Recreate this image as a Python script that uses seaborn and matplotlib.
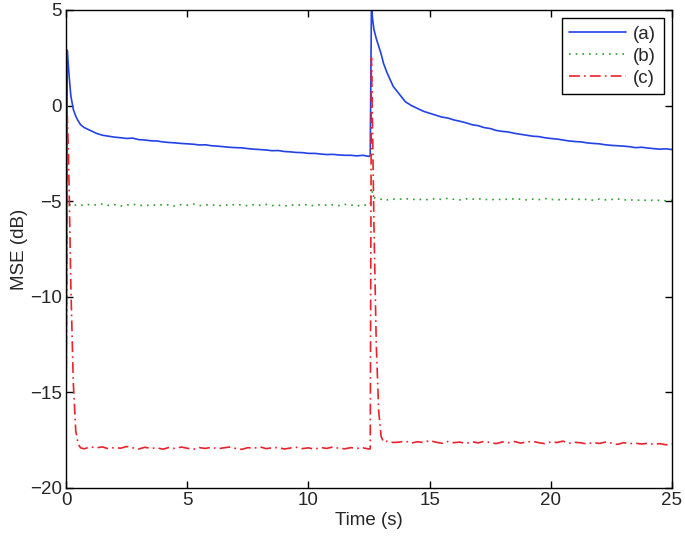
import matplotlib
matplotlib.use("Agg")
import matplotlib.pyplot as plt
import seaborn as sns
import pandas as pd

# sample times, first training run (0 .. 12.5 s) and second run (12.55 .. 25 s)
t_run1 = [0, 0.05, 0.1, 0.15, 0.2, 0.3, 0.4, 0.5, 0.6, 0.75, 1.0,
          1.25, 1.5, 1.75, 2.0, 2.25, 2.5, 2.75, 3.0, 3.25, 3.5,
          3.75, 4.0, 4.25, 4.5, 4.75, 5.0, 5.25, 5.5, 5.75, 6.0,
          6.25, 6.5, 6.75, 7.0, 7.25, 7.5, 7.75, 8.0, 8.25, 8.5,
          8.75, 9.0, 9.25, 9.5, 9.75, 10.0, 10.25, 10.5, 10.75, 11.0,
          11.25, 11.5, 11.75, 12.0, 12.25, 12.5]
t_run2 = [12.55, 12.6, 12.65, 12.7, 12.8, 12.9, 13.0, 13.1, 13.25, 13.5,
          13.75, 14.0, 14.25, 14.5, 14.75, 15.0, 15.25, 15.5, 15.75, 16.0,
          16.25, 16.5, 16.75, 17.0, 17.25, 17.5, 17.75, 18.0, 18.25, 18.5,
          18.75, 19.0, 19.25, 19.5, 19.75, 20.0, 20.25, 20.5, 20.75, 21.0,
          21.25, 21.5, 21.75, 22.0, 22.25, 22.5, 22.75, 23.0, 23.25, 23.5,
          23.75, 24.0, 24.25, 24.5, 24.75, 25.0]

# (a) MSE in dB
mse_a_run1 = [-17, 2.9, 2.0, 1.2, 0.5, -0.2, -0.55, -0.8, -1.0, -1.15, -1.3,
              -1.45, -1.55, -1.6, -1.65, -1.68, -1.72, -1.7, -1.78, -1.8, -1.84,
              -1.85, -1.9, -1.93, -1.95, -1.98, -2.0, -2.02, -2.06, -2.05, -2.1,
              -2.12, -2.15, -2.18, -2.2, -2.21, -2.25, -2.28, -2.3, -2.32, -2.36,
              -2.35, -2.4, -2.42, -2.45, -2.46, -2.5, -2.5, -2.53, -2.56, -2.55,
              -2.58, -2.6, -2.6, -2.63, -2.6, -2.66]
mse_a_run2 = [-2.6, 5.2, 4.5, 4.0, 3.5, 3.1, 2.7, 2.2, 1.7, 1.0,
              0.6, 0.2, 0.0, -0.15, -0.3, -0.4, -0.5, -0.6, -0.65, -0.75,
              -0.82, -0.9, -1.0, -1.05, -1.15, -1.2, -1.3, -1.35, -1.38, -1.45,
              -1.5, -1.55, -1.6, -1.62, -1.68, -1.72, -1.75, -1.8, -1.85, -1.88,
              -1.9, -1.95, -1.98, -2.0, -2.05, -2.08, -2.1, -2.12, -2.15, -2.2,
              -2.18, -2.22, -2.25, -2.28, -2.26, -2.3]

# (b)
mse_b_run1 = [-17, -5.0, -5.1, -5.2, -5.15, -5.25, -5.2, -5.18, -5.22, -5.2, -5.17,
              -5.2, -5.15, -5.22, -5.18, -5.25, -5.2, -5.16, -5.21, -5.24, -5.19,
              -5.22, -5.17, -5.2, -5.26, -5.18, -5.21, -5.15, -5.23, -5.2, -5.18,
              -5.25, -5.19, -5.22, -5.16, -5.2, -5.24, -5.18, -5.21, -5.17, -5.23,
              -5.2, -5.26, -5.19, -5.22, -5.17, -5.2, -5.24, -5.18, -5.21, -5.19,
              -5.23, -5.17, -5.2, -5.25, -5.19, -5.22]
mse_b_run2 = [-5.2, -4.3, -4.6, -4.8, -4.88, -4.92, -4.9, -4.86, -4.93, -4.89,
              -4.9, -4.86, -4.92, -4.88, -4.94, -4.9, -4.87, -4.91, -4.85, -4.9,
              -4.93, -4.88, -4.9, -4.86, -4.92, -4.89, -4.94, -4.88, -4.91, -4.87,
              -4.9, -4.93, -4.89, -4.92, -4.86, -4.9, -4.94, -4.89, -4.91, -4.88,
              -4.92, -4.9, -4.95, -4.89, -4.93, -4.91, -4.88, -4.94, -4.92, -4.96,
              -4.93, -4.97, -4.94, -4.96, -4.98, -4.95]

# (c)
mse_c_run1 = [-17, -0.5, -2.5, -6.0, -9.5, -14.5, -17.0, -17.7, -17.9, -17.95, -17.85,
              -17.9, -17.85, -17.95, -17.88, -17.92, -17.83, -17.9, -17.96, -17.87, -17.93,
              -17.9, -17.97, -17.88, -17.94, -17.86, -17.92, -17.98, -17.89, -17.93, -17.87,
              -17.95, -17.9, -17.86, -17.93, -17.98, -17.89, -17.92, -17.85, -17.94, -17.9,
              -17.88, -17.96, -17.91, -17.87, -17.94, -17.9, -17.97, -17.88, -17.93, -17.86,
              -17.92, -17.95, -17.89, -17.93, -17.9, -17.96]
mse_c_run2 = [-17.95, 2.5, -1.5, -6.0, -12.5, -16.0, -17.3, -17.6, -17.55, -17.62,
              -17.6, -17.55, -17.65, -17.58, -17.62, -17.52, -17.6, -17.66, -17.57, -17.63,
              -17.6, -17.67, -17.58, -17.64, -17.56, -17.62, -17.68, -17.59, -17.63, -17.57,
              -17.65, -17.6, -17.56, -17.63, -17.68, -17.59, -17.62, -17.55, -17.66, -17.61,
              -17.64, -17.7, -17.62, -17.67, -17.6, -17.65, -17.72, -17.63, -17.68, -17.66,
              -17.7, -17.66, -17.72, -17.68, -17.74, -17.7]

labels = ["(a)", "(b)", "(c)"]
colors = ["#2342e6", "#2ca02c", "#e8232b"]
styles = ["-", (0, (1, 3)), (0, (6.5, 2.5, 1, 2.5))]

time = t_run1 + t_run2
df = pd.DataFrame({
    "t": time * 3,
    "mse": mse_a_run1 + mse_a_run2 + mse_b_run1 + mse_b_run2 + mse_c_run1 + mse_c_run2,
    "curve": sum([[lab] * len(time) for lab in labels], []),
})

sns.set_style("ticks")
plt.rcParams["font.family"] = ["Liberation Sans", "DejaVu Sans"]
plt.rcParams["xtick.direction"] = "in"
plt.rcParams["ytick.direction"] = "in"

FS = 13.5

fig = plt.figure(figsize=(6.85, 5.4), dpi=100)
ax = fig.add_axes([0.0964, 0.0963, 0.8846, 0.8852])

for lab, col, ls in zip(labels, colors, styles):
    sns.lineplot(data=df[df["curve"] == lab], x="t", y="mse", color=col,
                 linestyle=ls, linewidth=1.2, estimator=None, label=lab, ax=ax)

ax.set_xlim(0, 25)
ax.set_ylim(-20, 5)
ax.set_xticks([0, 5, 10, 15, 20, 25])
ax.set_yticks([-20, -15, -10, -5, 0, 5])
ax.tick_params(labelsize=FS, length=5, width=1, top=True, right=True,
               color="black", pad=3)
for s in ax.spines.values():
    s.set_color("black")
    s.set_linewidth(1)
ax.set_xlabel("Time (s)", fontsize=FS, labelpad=2)
ax.set_ylabel("MSE (dB)", fontsize=FS, labelpad=1)

leg = ax.legend(loc="upper right", fontsize=FS, fancybox=False, framealpha=1,
                edgecolor="black", handlelength=3.0, borderaxespad=0.45,
                labelspacing=0.25, handletextpad=0.4, borderpad=0.4)
leg.get_frame().set_linewidth(1)

fig.savefig("out.png", dpi=100)
